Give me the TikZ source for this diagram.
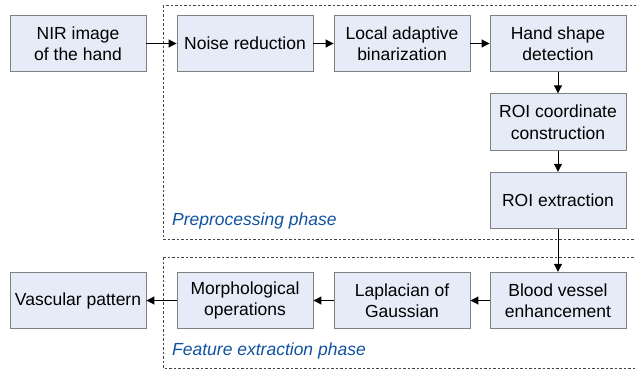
\documentclass[tikz,border=0pt]{standalone}
\usepackage{fontspec}
\setmainfont{Liberation Sans}
\usetikzlibrary{arrows.meta}
\definecolor{boxfill}{RGB}{230,236,247}
\definecolor{boxline}{RGB}{128,128,128}
\definecolor{phaseblue}{RGB}{16,82,160}
\definecolor{phaseline}{RGB}{70,70,70}

\begin{document}
\begin{tikzpicture}[x=1pt,y=-1pt,
  stagebox/.style={draw=boxline,line width=0.9pt,fill=boxfill,minimum width=136pt,
    minimum height=56.5pt,align=center,inner sep=2pt,
    font=\fontsize{17.5}{21.5}\selectfont},
  flow/.style={-{Triangle[length=8pt,width=8pt]},line width=1pt},
  phasebox/.style={draw=phaseline,line width=1pt,dash pattern=on 2.5pt off 2pt},
  phaselabel/.style={anchor=west,text=phaseblue,inner sep=0pt,
    font=\fontsize{17.5}{21}\selectfont\itshape}]
  \useasboundingbox (0,0) rectangle (636,372);
  % Phase frames (run off the right edge)
  \draw[phasebox] (163,5) rectangle (645,239);
  \draw[phasebox] (163,257) rectangle (645,368);
  \node[phaselabel] (prelabel) at (172,221) {Preprocessing phase};
  \node[phaselabel] (featlabel) at (172,351) {Feature extraction phase};
  % Stages
  \node[stagebox] (nir) at (78,43.5) {NIR image\\of the hand};
  \node[stagebox] (noise) at (245,43.5) {Noise reduction};
  \node[stagebox] (binar) at (402,43.5) {Local adaptive\\binarization};
  \node[stagebox] (hand) at (558,43.5) {Hand shape\\detection};
  \node[stagebox] (roicoord) at (558,122) {ROI coordinate\\construction};
  \node[stagebox] (roiext) at (558,200.5) {ROI extraction};
  \node[stagebox] (vessel) at (558,300.5) {Blood vessel\\enhancement};
  \node[stagebox] (log) at (402,300.5) {Laplacian of\\Gaussian};
  \node[stagebox] (morph) at (245,300.5) {Morphological\\operations};
  \node[stagebox] (vasc) at (78,300.5) {Vascular pattern};
  % Arrows
  \draw[flow] (nir) -- (noise);
  \draw[flow] (noise) -- (binar);
  \draw[flow] (binar) -- (hand);
  \draw[flow] (hand) -- (roicoord);
  \draw[flow] (roicoord) -- (roiext);
  \draw[flow] (roiext) -- (vessel);
  \draw[flow] (vessel) -- (log);
  \draw[flow] (log) -- (morph);
  \draw[flow] (morph) -- (vasc);
\end{tikzpicture}
\end{document}
